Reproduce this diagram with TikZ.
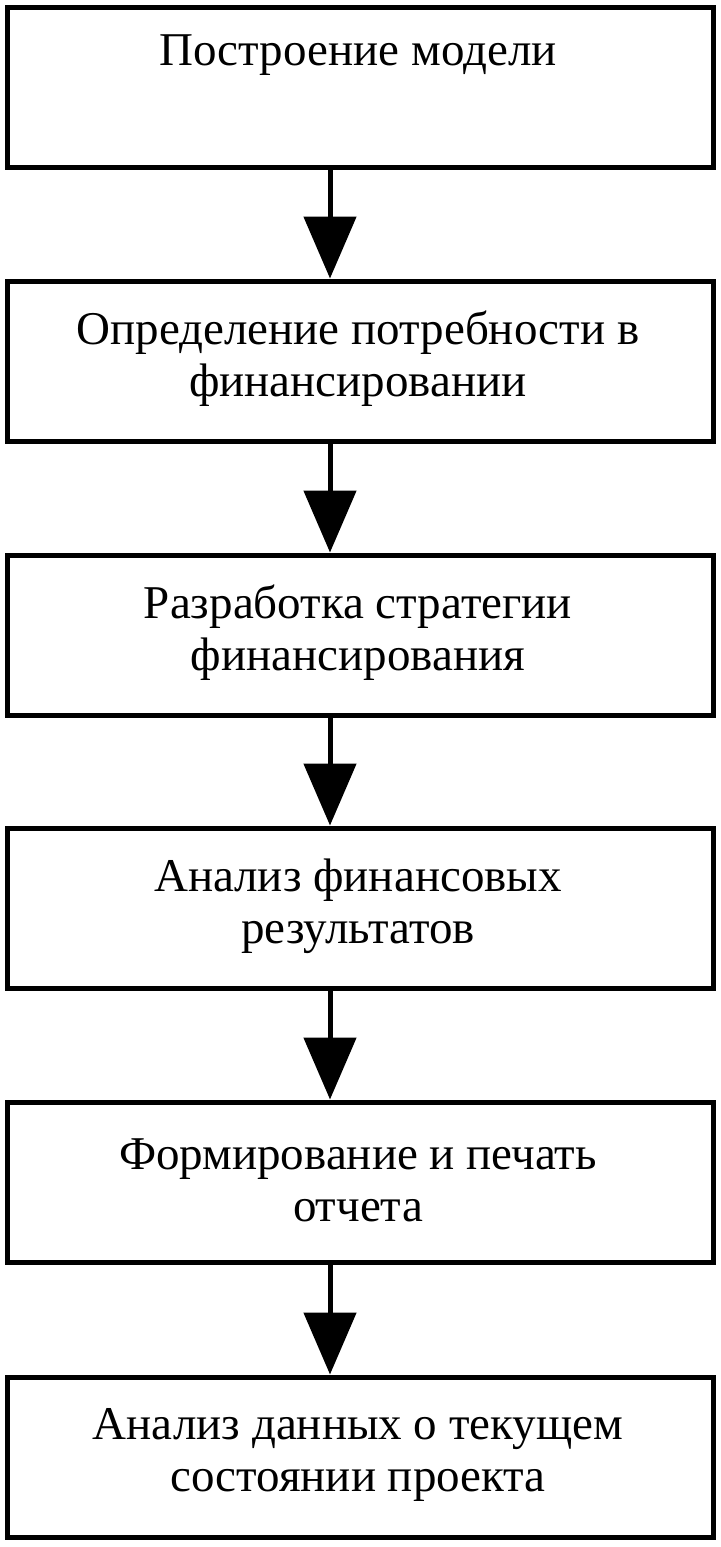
\documentclass[tikz,border=0pt]{standalone}
\usepackage{fontspec}
\setmainfont{Liberation Serif}
\usetikzlibrary{arrows.meta}
\begin{document}
\begin{tikzpicture}[x=1pt,y=-1pt,
  box/.style={draw,line width=5pt,minimum width=706pt,minimum height=160pt,inner sep=0pt},
  lbl/.style={font=\fontsize{47}{52}\selectfont,align=center},
  arr/.style={line width=5pt,-{Triangle[width=52pt,length=62pt]}}]
\useasboundingbox (0,0) rectangle (720,1547);
\node[box] (b1) at (360,87) {};
\node[box] (b2) at (360,361) {};
\node[box] (b3) at (360,635) {};
\node[box] (b4) at (360,908) {};
\node[box] (b5) at (360,1182) {};
\node[box] (b6) at (360,1457) {};
\node[lbl] (t1) at (358,55) {Построение модели};
\node[lbl] (t2) at (358,359) {Определение потребности в\\финансировании};
\node[lbl] (t3) at (358,633) {Разработка стратегии\\финансирования};
\node[lbl] (t4) at (358,906) {Анализ финансовых\\результатов};
\node[lbl] (t5) at (358,1180) {Формирование и печать\\отчета};
\node[lbl] (t6) at (358,1455) {Анализ данных о текущем\\состоянии проекта};
\draw[arr] ([xshift=-30pt]b1.south) -- ([xshift=-30pt]b2.north);
\draw[arr] ([xshift=-30pt]b2.south) -- ([xshift=-30pt]b3.north);
\draw[arr] ([xshift=-30pt]b3.south) -- ([xshift=-30pt]b4.north);
\draw[arr] ([xshift=-30pt]b4.south) -- ([xshift=-30pt]b5.north);
\draw[arr] ([xshift=-30pt]b5.south) -- ([xshift=-30pt]b6.north);
\end{tikzpicture}
\end{document}
